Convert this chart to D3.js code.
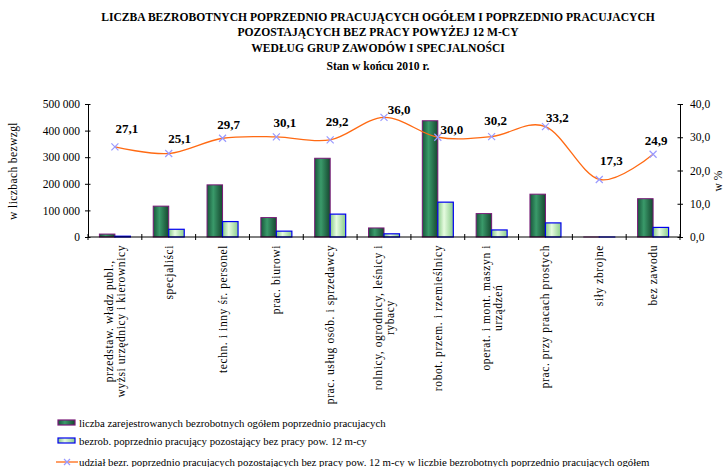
<!DOCTYPE html>
<html><head><meta charset="utf-8">
<script src="https://cdn.jsdelivr.net/npm/d3@7"></script>
<style>
body{margin:0;background:#fff;}
svg{display:block;}
svg text{font-family:"Liberation Serif","DejaVu Serif",serif;fill:#000;}
</style></head>
<body><svg id="c" width="725" height="467"></svg>
<script>
const titleLines = [
  "LICZBA  BEZROBOTNYCH POPRZEDNIO  PRACUJĄCYCH OGÓŁEM I POPRZEDNIO PRACUJACYCH",
  "POZOSTAJĄCYCH BEZ  PRACY POWYŻEJ  12 M-CY",
  "WEDŁUG  GRUP  ZAWODÓW  I SPECJALNOŚCI",
  "Stan w końcu 2010 r."
];
const categories = [
  ["przedstaw. władz publ.,", "wyżsi urzędnicy i kierownicy"],
  ["specjaliści"],
  ["techn. i inny śr. personel"],
  ["prac. biurowi"],
  ["prac. usług osób. i sprzedawcy"],
  ["rolnicy, ogrodnicy, leśnicy i", "rybacy"],
  ["robot. przem. i rzemieślnicy"],
  ["operat. i mont. maszyn i", "urządzeń"],
  ["prac. przy pracach prostych"],
  ["siły zbrojne"],
  ["bez zawodu"]
];
const totalValues = [11000, 116000, 196000, 73000, 296000, 34000, 437000, 88000, 161000, 100, 144000];
const longTermValues = [3000, 29000, 58000, 22000, 86000, 12000, 131000, 26500, 53000, 20, 36000];
const shareValues = [27.1, 25.1, 29.7, 30.1, 29.2, 36.0, 30.0, 30.2, 33.2, 17.3, 24.9];
const leftTicks = [0, 100000, 200000, 300000, 400000, 500000];
const rightTicks = [0, 10, 20, 30, 40];
const legendLabels = [
  "liczba zarejestrowanych bezrobotnych ogółem poprzednio pracujacych",
  "bezrob. poprzednio pracujący pozostający  bez  pracy pow. 12 m-cy",
  "udział bezr. poprzednio pracujacych pozostających  bez  pracy pow. 12 m-cy w liczbie bezrobotnych poprzednio pracujących ogółem"
];
const leftAxisTitle = "w liczbach bezwzgl";
const rightAxisTitle = "w %";
// label nudges (style): dx, dy from marker
const labelDx = [12, 11, 6, 8.5, 7, 15, 14, 4, 12, 12, 3];
const labelDy = [-14, -10.5, -9, -10, -14, -3, -3, -11.5, -5, -14.5, -9];

const svg = d3.select("#c");
const defs = svg.append("defs");
const g1 = defs.append("linearGradient").attr("id","gDark").attr("x1","0").attr("x2","1").attr("y1","0").attr("y2","0");
g1.append("stop").attr("offset","0%").attr("stop-color","#17563a");
g1.append("stop").attr("offset","40%").attr("stop-color","#3a9a6a");
g1.append("stop").attr("offset","100%").attr("stop-color","#15472f");
const g2 = defs.append("linearGradient").attr("id","gLight").attr("x1","0").attr("x2","1").attr("y1","0").attr("y2","0");
g2.append("stop").attr("offset","0%").attr("stop-color","#86c986");
g2.append("stop").attr("offset","40%").attr("stop-color","#e6fbe0");
g2.append("stop").attr("offset","100%").attr("stop-color","#8acc8a");

// title
const tY = [21, 36, 52, 70];
titleLines.forEach((t,i)=>{
  svg.append("text").attr("x",378).attr("y",tY[i]).attr("text-anchor","middle")
    .attr("font-size", 11.6).attr("font-weight","bold").text(t);
});

const pL = 88, pR = 680, pT = 104, pB = 237;
const x = d3.scaleBand().domain(d3.range(categories.length)).range([pL, pR]).paddingInner(0).paddingOuter(0);
const y = d3.scaleLinear().domain([0, 500000]).range([pB, pT]);
const y2 = d3.scaleLinear().domain([0, 40]).range([pB, pT]);
const fmtL = d => d3.format(",")(d).replace(/,/g, " ");
const fmtR = d => d3.format(".1f")(d).replace(".", ",");

// bars
const bw = 15.5;
const gb = svg.append("g");
gb.selectAll("rect.t").data(totalValues).join("rect")
  .attr("x",(d,i)=>x(i)+x.bandwidth()/2-bw).attr("width",bw)
  .attr("y",d=>y(d)).attr("height",d=>pB-y(d))
  .attr("fill","url(#gDark)").attr("stroke","#7a1a78").attr("stroke-width",1);
gb.selectAll("rect.l").data(longTermValues).join("rect")
  .attr("x",(d,i)=>x(i)+x.bandwidth()/2).attr("width",bw)
  .attr("y",d=>y(d)).attr("height",d=>pB-y(d))
  .attr("fill","url(#gLight)").attr("stroke","#0000ee").attr("stroke-width",1.2);

// axes
const axL = svg.append("g").attr("transform",`translate(${pL},0)`)
  .call(d3.axisLeft(y).tickValues(leftTicks).tickFormat(fmtL).tickSizeInner(3).tickSizeOuter(0).tickPadding(5));
axL.selectAll(".tick line").attr("x2",2.5).attr("x1",-3);
const axR = svg.append("g").attr("transform",`translate(${pR},0)`)
  .call(d3.axisRight(y2).tickValues(rightTicks).tickFormat(fmtR).tickSizeInner(3).tickSizeOuter(0).tickPadding(7));
axR.selectAll(".tick line").attr("x1",-2.5).attr("x2",3);
[axL, axR].forEach(a=>{
  a.attr("font-family",null).attr("font-size",null);
  a.select(".domain").attr("stroke","#000");
  a.selectAll(".tick line").attr("stroke","#000");
  a.selectAll("text").attr("font-size",11.5).attr("fill","#000");
});
// x axis
const gx = svg.append("g");
gx.append("line").attr("x1",pL).attr("x2",pR).attr("y1",pB).attr("y2",pB).attr("stroke","#000");
gx.selectAll("line.tk").data(d3.range(categories.length+1)).join("line")
  .attr("x1",i=>i<categories.length? x(i): pR).attr("x2",i=>i<categories.length? x(i): pR)
  .attr("y1",pB-3).attr("y2",pB+3).attr("stroke","#000");

// category labels
const labG = svg.append("g");
categories.forEach((lines,i)=>{
  const cx = x(i)+x.bandwidth()/2;
  const n = lines.length;
  const grp = labG.append("g");
  const texts = lines.map((ln,j)=> grp.append("text").attr("font-size",11.5).attr("letter-spacing",0.6).attr("text-anchor","middle").text(ln));
  const maxLen = d3.max(texts, t=>t.node().getComputedTextLength());
  texts.forEach((t,j)=>{
    const lx = cx + (j - (n-1)/2)*12 + 4;
    t.attr("transform",`translate(${lx},${pB+8+maxLen/2}) rotate(-90)`);
  });
});

// axis titles
svg.append("text").attr("transform","translate(17,171) rotate(-90)").attr("text-anchor","middle").attr("font-size",11.5).attr("letter-spacing",0.4).text(leftAxisTitle);
svg.append("text").attr("transform","translate(722,181) rotate(-90)").attr("text-anchor","middle").attr("font-size",11.5).text(rightAxisTitle);

// line
const cxp = i => x(i)+x.bandwidth()/2;
const line = d3.line().x((d,i)=>cxp(i)).y(d=>y2(d)).curve(d3.curveCardinal.tension(0));
svg.append("path").datum(shareValues).attr("d",line).attr("fill","none").attr("stroke","#ff6a13").attr("stroke-width",1.3);
const mk = svg.append("g");
shareValues.forEach((v,i)=>{
  const px = cxp(i), py = y2(v), s=3.5;
  mk.append("path").attr("d",`M${px-s},${py-s}L${px+s},${py+s}M${px-s},${py+s}L${px+s},${py-s}`)
    .attr("stroke","#9a9aff").attr("stroke-width",1.2);
  svg.append("text").attr("x",px+labelDx[i]).attr("y",py+labelDy[i]).attr("text-anchor","middle")
    .attr("font-size",13).attr("font-weight","bold").text(fmtR(v));
});

// legend
const lg = svg.append("g");
const lY = [427, 445, 466];
lg.append("rect").attr("x",58).attr("y",lY[0]-7).attr("width",17).attr("height",5).attr("fill","url(#gDark)").attr("stroke","#7a1a78").attr("stroke-width",1.2);
lg.append("rect").attr("x",58).attr("y",lY[1]-7).attr("width",17).attr("height",5).attr("fill","url(#gLight)").attr("stroke","#0000ee").attr("stroke-width",1.2);
lg.append("line").attr("x1",56).attr("x2",78).attr("y1",lY[2]-4).attr("y2",lY[2]-4).attr("stroke","#ff6a13").attr("stroke-width",1.3);
lg.append("path").attr("d",`M${67-3},${lY[2]-7}L${67+3},${lY[2]-1}M${67-3},${lY[2]-1}L${67+3},${lY[2]-7}`).attr("stroke","#9a9aff").attr("stroke-width",1.2);
legendLabels.forEach((t,i)=>{
  lg.append("text").attr("x",79).attr("y",lY[i]).attr("font-size",10.8).text(t);
});
</script></body></html>
